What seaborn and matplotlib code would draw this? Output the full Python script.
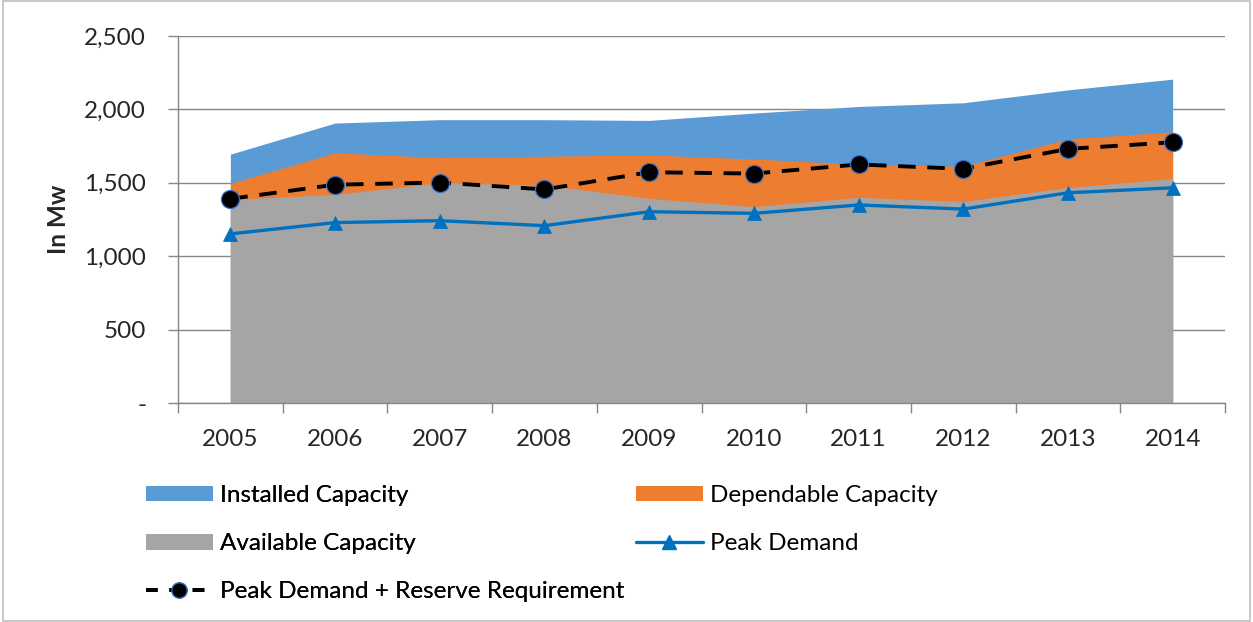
import numpy as np
import pandas as pd
import matplotlib
matplotlib.use("Agg")
import matplotlib.pyplot as plt
import seaborn as sns
from matplotlib.patches import Patch, Rectangle
from matplotlib.lines import Line2D
from matplotlib.ticker import FuncFormatter

# values (MW)
years = [2005, 2006, 2007, 2008, 2009, 2010, 2011, 2012, 2013, 2014]
installed = [1695, 1907, 1930, 1930, 1925, 1975, 2020, 2045, 2133, 2206]
dependable = [1496, 1704, 1672, 1681, 1690, 1662, 1627, 1613, 1799, 1848]
available = [1387, 1421, 1500, 1484, 1394, 1337, 1401, 1373, 1468, 1529]
peak_demand = [1152, 1229, 1242, 1208, 1303, 1292, 1349, 1321, 1432, 1466]
peak_reserve = [1391, 1487, 1502, 1455, 1572, 1563, 1625, 1595, 1731, 1776]

c_installed = "#5B9BD5"
c_dependable = "#ED7D31"
c_available = "#A5A5A5"
c_peak = "#0070C0"
c_axis = "#868686"
fs = 17.5

df = pd.DataFrame({
    "pos": np.arange(len(years)),
    "installed": installed,
    "dependable": dependable,
    "available": available,
    "peak": peak_demand,
    "reserve": peak_reserve,
})

sns.set_style("white")
plt.rcParams["font.family"] = ["Lato", "DejaVu Sans"]
plt.rcParams["text.color"] = "#000000"

fig = plt.figure(figsize=(12.53, 6.22), dpi=100)
ax = fig.add_axes([178 / 1253, 1 - 403 / 622, (1225 - 178) / 1253, (403 - 36) / 622])

# overlapping areas, installed at the back
ax.fill_between(df["pos"], 0, df["installed"], color=c_installed, lw=0, zorder=1)
ax.fill_between(df["pos"], 0, df["dependable"], color=c_dependable, lw=0, zorder=1.1)
ax.fill_between(df["pos"], 0, df["available"], color=c_available, lw=0, zorder=1.2)

sns.lineplot(data=df, x="pos", y="peak", ax=ax, color=c_peak, linewidth=2.4,
             marker="^", markersize=10, markerfacecolor=c_peak,
             markeredgecolor=c_peak, markeredgewidth=0.5, legend=False, zorder=3)
sns.lineplot(data=df, x="pos", y="reserve", ax=ax, color="black", linewidth=2.8,
             linestyle=(0, (4.5, 3)), marker="o", markersize=13,
             markerfacecolor="black", markeredgecolor="#3A6FC4",
             markeredgewidth=0.9, legend=False, zorder=4)

# axes styling
ax.set_xlim(-0.5, len(years) - 0.5)
ax.set_ylim(0, 2500)
ax.set_yticks(np.arange(0, 2501, 500))
ax.yaxis.set_major_formatter(FuncFormatter(lambda v, p: "-" if v == 0 else f"{int(v):,}"))
ax.grid(axis="y", color=c_axis, linewidth=1)
ax.grid(axis="x", visible=False)
ax.set_axisbelow(True)

ax.set_xticks(np.arange(-0.5, len(years), 1))
ax.set_xticklabels([])
ax.set_xticks(np.arange(len(years)), minor=True)
ax.set_xticklabels([str(y) for y in years], minor=True)
ax.tick_params(axis="x", which="major", direction="out", length=7, width=1, color=c_axis, bottom=True)
ax.tick_params(axis="x", which="minor", length=0, pad=19, labelsize=fs)
ax.tick_params(axis="y", direction="out", length=7, width=1, color=c_axis, left=True, pad=16, labelsize=fs)

for s in ["top", "right"]:
    ax.spines[s].set_visible(False)
for s in ["left", "bottom"]:
    ax.spines[s].set_color(c_axis)
    ax.spines[s].set_linewidth(1)

ax.set_xlabel("")
ax.set_ylabel("In Mw", fontsize=fs, fontweight="bold", labelpad=10)

# legend in two columns below the plot
h_inst = Patch(facecolor=c_installed, edgecolor="none")
h_dep = Patch(facecolor=c_dependable, edgecolor="none")
h_av = Patch(facecolor=c_available, edgecolor="none")
h_peak = Line2D([], [], color=c_peak, lw=2.4, marker="^", markersize=10, markeredgecolor=c_peak)
h_res = Line2D([], [], color="black", lw=2.8, linestyle=(0, (3, 3)), marker="o", markersize=11,
               markerfacecolor="black", markeredgecolor="#3A6FC4", markeredgewidth=0.9)

common = dict(frameon=False, fontsize=fs, handlelength=2.75, handleheight=0.62,
              handletextpad=0.3, labelspacing=1.12, borderpad=0, borderaxespad=0,
              loc="upper left")
leg1 = fig.legend([h_inst, h_av, h_res],
                  ["Installed Capacity", "Available Capacity", "Peak Demand + Reserve Requirement"],
                  bbox_to_anchor=(146 / 1253, 1 - 485 / 622), **common)
fig.add_artist(leg1)
fig.legend([h_dep, h_peak], ["Dependable Capacity", "Peak Demand"],
           bbox_to_anchor=(636 / 1253, 1 - 485 / 622), **common)

# chart border
fig.add_artist(Rectangle((0.002, 0.002), 0.996, 0.996, transform=fig.transFigure,
                         fill=False, edgecolor="#BFBFBF", linewidth=1.2))

fig.savefig("out.png", dpi=100)
